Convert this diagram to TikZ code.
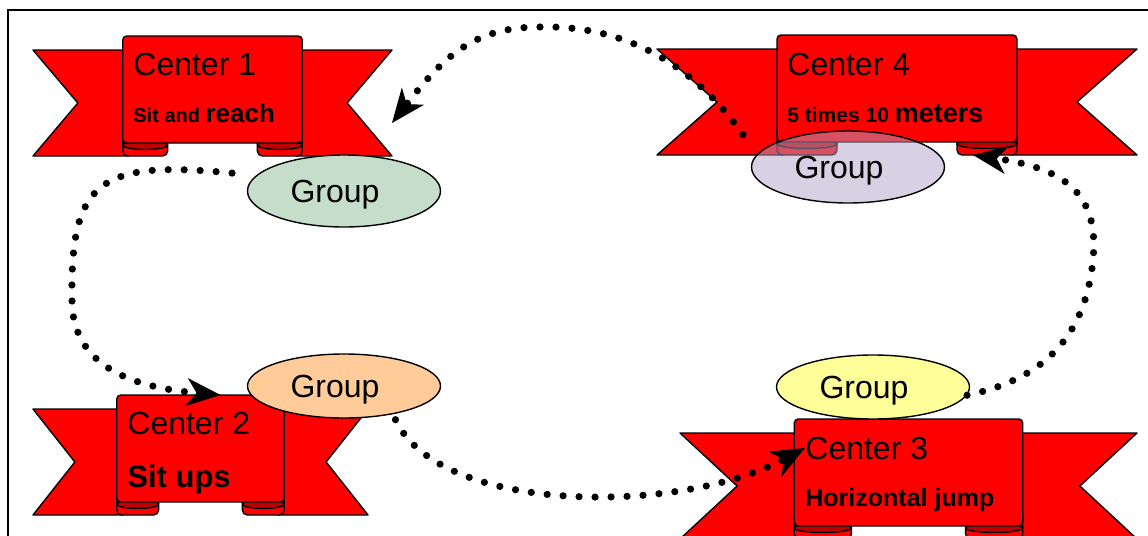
\documentclass[tikz,border=0pt]{standalone}
\usepackage{fontspec}
\setmainfont{Liberation Sans}
\usetikzlibrary{arrows.meta, shapes.geometric, positioning}
\definecolor{bannerred}{HTML}{FF0000}
\definecolor{bannerdark}{HTML}{C00000}
\definecolor{grpgreen}{HTML}{C6DDC9}
\definecolor{grppurple}{HTML}{B2A2C7}
\definecolor{grporange}{HTML}{FFCC99}
\definecolor{grpyellow}{HTML}{FFFF99}

\tikzset{
  band/.style={draw=black, line width=0.7pt, fill=bannerred, line join=round},
  pics/banner/.style={code={
      \pgfmathsetmacro\bw{#1}
      \pgfmathsetmacro\bq{#1/4}
      \pgfmathsetmacro\be{#1/8}
      % back band, left and right halves
      \draw[band] (0,0) -- (\bq+6,0) -- (\bq+6,106) -- (0,106) -- (\be,53) -- cycle;
      \draw[band] (\bw,0) -- (3*\bq-6,0) -- (3*\bq-6,106) -- (\bw,106) -- (\bw-\be,53) -- cycle;
      % rolled ends under the panel
      \foreach \fx in {\bq, 3*\bq-\be} {
        \draw[band, rounded corners=2.5pt] (\fx,80) -- (\fx,106) -- (\fx+\be,106) -- (\fx+\be,80);
        \draw[band, fill=bannerdark] (\fx+\be/2,95) ellipse [x radius=\be/2, y radius=4.5];
      }
      % front panel
      \draw[band, rounded corners=2pt] (\bq,93) -- (\bq,-14) -- (3*\bq,-14) -- (3*\bq,93) -- cycle;
      \coordinate (-top) at (2*\bq,-14);
      \coordinate (-east) at (\bw,53);
      \coordinate (-fold) at (3*\bq-\be/2,106);
  }},
}

\begin{document}
\begin{tikzpicture}[x=0.5pt, y=-0.5pt,
    title/.style={anchor=base west, inner sep=0pt, font=\fontsize{16}{19}\selectfont},
    task/.style={anchor=base west, inner sep=0pt, font=\bfseries},
    group/.style={ellipse, draw, line width=0.7pt, minimum width=96.5pt,
                  minimum height=36pt, inner sep=0pt, text depth=0pt,
                  font=\fontsize{16}{19}\selectfont, execute at end node=\hspace{9pt}},
    conn/.style={line width=3.6pt, line cap=round, dash pattern=on 0pt off 8pt,
                 -{Stealth[length=17pt, width=14pt, inset=5pt, line width=0.5pt]}}
  ]
  \useasboundingbox (0,0) rectangle (1148,536);
  \draw[line width=0.8pt] (8,10) rectangle (1200,600);

  % banners
  \pic (r1) at (33,50) {banner=359};
  \pic (r2) at (33,409) {banner=335};
  \pic (r3) at (680,433) {banner=457};
  \pic (r4) at (657,49) {banner=480};

  \node[title] (c1) at (133,75) {Center 1};
  \node[task] (t1) at (133,122)
    {\fontsize{10}{12}\selectfont Sit and \fontsize{13}{15}\selectfont reach};
  \node[title] (c2) at (127,434) {Center 2};
  \node[task] (t2) at (127,487) {\fontsize{15.5}{18}\selectfont Sit ups};
  \node[title] (c3) at (805,459) {Center 3};
  \node[task] (t3) at (805,506) {\fontsize{12.5}{15}\selectfont Horizontal jump};
  \node[title] (c4) at (787,75) {Center 4};
  \node[task] (t4) at (787,122)
    {\fontsize{10.5}{12}\selectfont 5 times 10 \fontsize{13.5}{16}\selectfont meters};

  % groups
  \node[group, fill=grpgreen] (g1) at (344,191) {Group};
  \node[group, fill=grporange, minimum height=32pt] (g2) at (344,386) {Group};
  \node[group, fill=grpyellow, minimum height=32pt] (g3) at (873,387) {Group};
  \node[group, fill=grppurple, fill opacity=0.5, text opacity=1] (g4) at (848,167) {Group};

  % rotation
  \draw[conn, shorten <=12pt] (g1.170) .. controls (100,160) and (70,180) .. (72,300)
      .. controls (72,370) and (140,388) .. ([xshift=10pt]r2-top);
  \draw[conn, shorten <=3pt] (g2.-30) .. controls (440,515) and (680,515) .. (c3.west);
  \draw[conn] (g3.-5) .. controls (1040,380) and (1085,340) .. (1093,260)
      .. controls (1100,190) and (1060,168) .. ([xshift=-7pt]r4-fold);
  \draw[conn, shorten <=12pt] (g4.172) .. controls (690,60) and (620,25) .. (540,27)
      .. controls (475,27) and (445,55) .. ([yshift=-10pt]r1-east);
\end{tikzpicture}
\end{document}
